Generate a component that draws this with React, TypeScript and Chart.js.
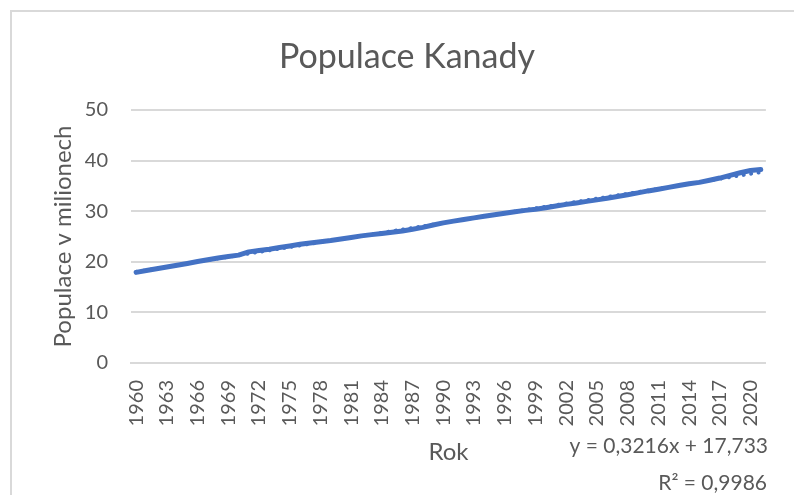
import React, { useEffect, useRef } from "react";
import { Chart, registerables } from "chart.js";

Chart.register(...registerables);

const years: string[] = [
  "1960","1961","1962","1963","1964","1965","1966","1967","1968","1969",
  "1970","1971","1972","1973","1974","1975","1976","1977","1978","1979",
  "1980","1981","1982","1983","1984","1985","1986","1987","1988","1989",
  "1990","1991","1992","1993","1994","1995","1996","1997","1998","1999",
  "2000","2001","2002","2003","2004","2005","2006","2007","2008","2009",
  "2010","2011","2012","2013","2014","2015","2016","2017","2018","2019",
  "2020","2021",
];

const population: number[] = [
  17.91, 18.27, 18.61, 18.96, 19.33, 19.68, 20.05, 20.41, 20.74, 21.03,
  21.32, 21.96, 22.22, 22.49, 22.81, 23.14, 23.45, 23.73, 23.96, 24.20,
  24.52, 24.82, 25.12, 25.37, 25.61, 25.84, 26.10, 26.45, 26.80, 27.28,
  27.69, 28.04, 28.37, 28.68, 29.00, 29.30, 29.61, 29.91, 30.16, 30.40,
  30.69, 31.02, 31.35, 31.64, 31.94, 32.24, 32.57, 32.89, 33.25, 33.63,
  34.01, 34.34, 34.71, 35.08, 35.44, 35.70, 36.11, 36.55, 37.07, 37.60,
  38.04, 38.23,
];

// linear trendline values at first and last category
const trendYears: string[] = ["1960", "2021"];
const trendValues: number[] = [18.05, 37.67];

const yTicks: number[] = [0, 10, 20, 30, 40, 50];

const titleText = "Populace Kanady";
const yTitle = "Populace v milionech";
const xTitle = "Rok";
const equationText = "y = 0,3216x + 17,733";
const r2Text = "R² = 0,9986";

const FONT = "Lato, 'Noto Sans', sans-serif";
const TEXT = "#595959";
const GRID = "#d9d9d9";
const BLUE = "#4472C4";

export default function App() {
  const ref = useRef<HTMLCanvasElement | null>(null);

  useEffect(() => {
    if (!ref.current) return;
    const eqPlugin = {
      id: "eqText",
      afterDraw(chart: any) {
        const ctx = chart.ctx;
        ctx.save();
        ctx.fillStyle = TEXT;
        ctx.font = `21px ${FONT}`;
        ctx.textAlign = "right";
        ctx.textBaseline = "middle";
        ctx.fillText(equationText, 756, 434);
        ctx.fillText(r2Text, 755, 471);
        ctx.restore();
      },
    };
    const chart = new Chart(ref.current, {
      type: "line",
      data: {
        labels: years,
        datasets: [
          {
            label: "Populace",
            data: population,
            borderColor: BLUE,
            backgroundColor: BLUE,
            borderWidth: 5,
            pointRadius: 0,
            borderCapStyle: "round",
            borderJoinStyle: "round",
            tension: 0,
            order: 2,
          },
          {
            label: "Lineární trend",
            data: trendYears.map((y, i) => ({ x: y, y: trendValues[i] })) as any,
            borderColor: BLUE,
            borderWidth: 3.5,
            borderDash: [0.5, 7],
            borderCapStyle: "round",
            pointRadius: 0,
            tension: 0,
            order: 1,
          },
        ],
      },
      options: {
        animation: false,
        responsive: false,
        maintainAspectRatio: false,
        layout: { padding: { top: 0, left: 0, right: 0, bottom: 0 } },
        plugins: {
          legend: { display: false },
          tooltip: { enabled: false },
          title: {
            display: true,
            text: titleText,
            color: TEXT,
            font: { family: FONT, size: 34, weight: "normal" },
            padding: { top: 24.6, bottom: 32.6 },
          },
        },
        scales: {
          x: {
            type: "category",
            offset: true,
            grid: { display: false, drawTicks: false },
            border: { display: true, color: GRID, width: 2 },
            ticks: {
              autoSkip: false,
              minRotation: 90,
              maxRotation: 90,
              padding: 17,
              color: TEXT,
              font: { family: FONT, size: 20 },
              callback: (_v: any, i: number) => (i % 3 === 0 ? years[i] : ""),
            },
            title: {
              display: true,
              text: xTitle,
              color: TEXT,
              font: { family: FONT, size: 24 },
              padding: { top: 0, bottom: 28.6 },
            },
            afterFit: (s: any) => {
              s.height = 132;
            },
          },
          y: {
            min: 0,
            max: 50,
            afterBuildTicks: (s: any) => {
              s.ticks = yTicks.map((v) => ({ value: v }));
            },
            grid: { color: GRID, lineWidth: 2, drawTicks: false },
            border: { display: false },
            ticks: {
              padding: 23,
              color: TEXT,
              font: { family: FONT, size: 20 },
            },
            title: {
              display: true,
              text: yTitle,
              color: TEXT,
              font: { family: FONT, size: 24 },
              padding: { top: 36.6, bottom: 0 },
            },
            afterFit: (s: any) => {
              s.width = 119;
            },
          },
          yRightSpace: {
            type: "linear",
            position: "right",
            min: 0,
            max: 50,
            grid: { display: false, drawTicks: false },
            border: { display: false },
            ticks: { display: false },
            afterFit: (s: any) => {
              s.width = 29;
            },
          },
        },
      },
      plugins: [eqPlugin],
    });
    return () => chart.destroy();
  }, []);

  return (
    <div
      style={{
        position: "fixed",
        left: 10,
        top: 10,
        width: 790,
        height: 485,
        borderLeft: `2px solid ${GRID}`,
        borderTop: `2px solid ${GRID}`,
        background: "#fff",
      }}
    >
      <canvas ref={ref} width={790} height={483} style={{ display: "block" }} />
    </div>
  );
}
